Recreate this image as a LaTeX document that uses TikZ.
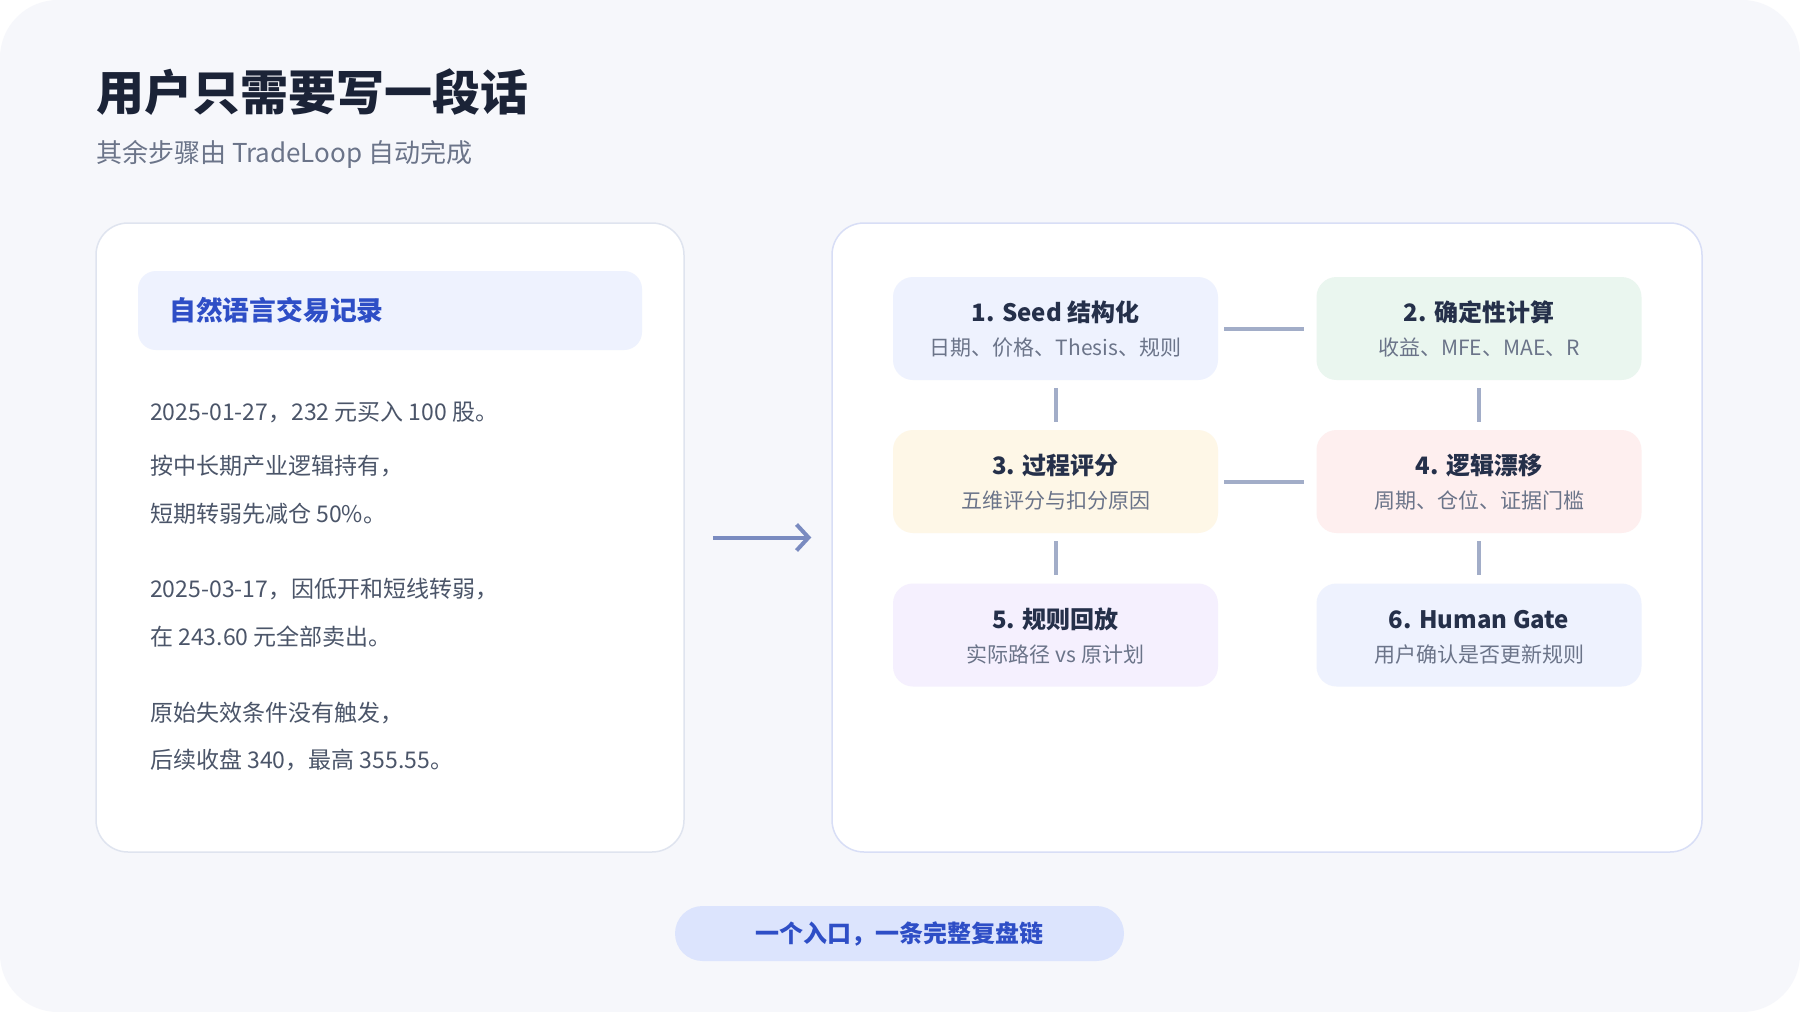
\documentclass[tikz,border=0pt]{standalone}
\usepackage{fontspec}
\setmainfont{Noto Sans CJK SC}
\usetikzlibrary{arrows.meta,calc}
\definecolor{bgc}{HTML}{F6F7FB}
\definecolor{cardborder}{HTML}{DFE4EF}
\definecolor{cardborderb}{HTML}{D8DEF6}
\definecolor{titlec}{HTML}{1B2337}
\definecolor{subc}{HTML}{6B7489}
\definecolor{hdrfill}{HTML}{EEF2FE}
\definecolor{bluetext}{HTML}{2E4EC6}
\definecolor{bodyc}{HTML}{4B5569}
\definecolor{steptc}{HTML}{25304A}
\definecolor{connc}{HTML}{A2ADC8}
\definecolor{arrowc}{HTML}{7A8BC0}
\definecolor{pillfill}{HTML}{DCE4FD}
\definecolor{fa}{HTML}{EEF2FE}
\definecolor{fb}{HTML}{EAF6EF}
\definecolor{fc}{HTML}{FEF7E7}
\definecolor{fd}{HTML}{FEEFEF}
\definecolor{fe}{HTML}{F5F0FE}
\definecolor{ff}{HTML}{EEF2FE}
\tikzset{
  card/.style={draw=cardborder, line width=1.5pt, fill=white, rounded corners=32pt, inner sep=0pt},
  stepbox/.style={draw=none, rounded corners=20pt, minimum width=325pt, minimum height=103pt, inner sep=0pt},
  steptitle/.style={anchor=base, text=steptc, font=\fontsize{24}{28}\selectfont\bfseries},
  stepsub/.style={anchor=base, text=subc, font=\fontsize{21}{25}\selectfont},
  bodyline/.style={anchor=base west, text=bodyc, font=\fontsize{23}{28}\selectfont, inner sep=0pt},
  conn/.style={draw=connc, line width=4pt},
}
\begin{document}
\begin{tikzpicture}[x=1pt,y=-1pt]
\useasboundingbox (0,0) rectangle (1800,1012);
\fill[white] (0,0) rectangle (1800,1012);
\fill[bgc, rounded corners=58pt] (0,0) rectangle (1800,1012);

% titles
\node[anchor=base west, inner sep=0pt, text=titlec, font=\fontsize{48}{56}\selectfont\bfseries] (title) at (96,110) {用户只需要写一段话};
\node[anchor=base west, inner sep=0pt, text=subc, font=\fontsize{26}{30}\selectfont] (subtitle) at (96,162) {其余步骤由 TradeLoop 自动完成};

% left card
\node[card, minimum width=588pt, minimum height=629pt] (left) at (390,537.5) {};
\node[fill=hdrfill, rounded corners=18pt, minimum width=504pt, minimum height=79pt, inner sep=0pt] (hdr) at (390,310.5) {};
\node[anchor=base west, inner sep=0pt, text=bluetext, font=\fontsize{26.8}{30}\selectfont\bfseries] (hdrtext) at (169,320.5) {自然语言交易记录};

\node[bodyline] (l1) at (150,420) {2025-01-27，232 元买入 100 股。};
\node[bodyline] (l2) at (150,474) {按中长期产业逻辑持有，};
\node[bodyline] (l3) at (150,522) {短期转弱先减仓 50\%。};
\node[bodyline] (l4) at (150,597) {2025-03-17，因低开和短线转弱，};
\node[bodyline] (l5) at (150,645) {在 243.60 元全部卖出。};
\node[bodyline] (l6) at (150,721) {原始失效条件没有触发，};
\node[bodyline] (l7) at (150,768) {后续收盘 340，最高 355.55。};

% right card
\node[card, draw=cardborderb, minimum width=870pt, minimum height=629pt] (right) at (1267,537.5) {};

% arrow
\draw[arrowc, line width=4pt, shorten <=28pt, shorten >=20pt,
  -{Straight Barb[length=12pt,width=26pt]}] (left.east) -- (right.west);

% step boxes
\node[stepbox, fill=fa] (s1) at (1055.5,328.5) {};
\node[stepbox, fill=fb] (s2) at (1479,328.5) {};
\node[stepbox, fill=fc] (s3) at (1055.5,481.5) {};
\node[stepbox, fill=fd] (s4) at (1479,481.5) {};
\node[stepbox, fill=fe] (s5) at (1055.5,635) {};
\node[stepbox, fill=ff] (s6) at (1479,635) {};

\node[steptitle] (t1) at ([yshift=7pt]s1.center) {1. Seed 结构化};
\node[stepsub] (u1) at ([yshift=-27pt]s1.center) {日期、价格、Thesis、规则};
\node[steptitle] (t2) at ([yshift=7pt]s2.center) {2. 确定性计算};
\node[stepsub] (u2) at ([yshift=-27pt]s2.center) {收益、MFE、MAE、R};
\node[steptitle] (t3) at ([yshift=7pt]s3.center) {3. 过程评分};
\node[stepsub] (u3) at ([yshift=-27pt]s3.center) {五维评分与扣分原因};
\node[steptitle] (t4) at ([yshift=7pt]s4.center) {4. 逻辑漂移};
\node[stepsub] (u4) at ([yshift=-27pt]s4.center) {周期、仓位、证据门槛};
\node[steptitle] (t5) at ([yshift=7pt]s5.center) {5. 规则回放};
\node[stepsub] (u5) at ([yshift=-27pt]s5.center) {实际路径 vs 原计划};
\node[steptitle] (t6) at ([yshift=7pt]s6.center) {6. Human Gate};
\node[stepsub] (u6) at ([yshift=-27pt]s6.center) {用户确认是否更新规则};

% connectors
\draw[conn] ([xshift=6pt]s1.east) -- ([xshift=-12pt]s2.west);
\draw[conn] ([xshift=6pt]s3.east) -- ([xshift=-12pt]s4.west);
\draw[conn] ([yshift=-8pt]s1.south) -- ([yshift=8pt]s3.north);
\draw[conn] ([yshift=-8pt]s3.south) -- ([yshift=8pt]s5.north);
\draw[conn] ([yshift=-8pt]s2.south) -- ([yshift=8pt]s4.north);
\draw[conn] ([yshift=-8pt]s4.south) -- ([yshift=8pt]s6.north);

% bottom pill
\node[fill=pillfill, rounded corners=27.5pt, minimum width=449pt, minimum height=55pt, inner sep=0pt] (pill) at (899.5,933.5) {};
\node[anchor=base, inner sep=0pt, text=bluetext, font=\fontsize{24}{28}\selectfont\bfseries] (pilltext) at (899.5,942.5) {一个入口，一条完整复盘链};
\end{tikzpicture}
\end{document}
